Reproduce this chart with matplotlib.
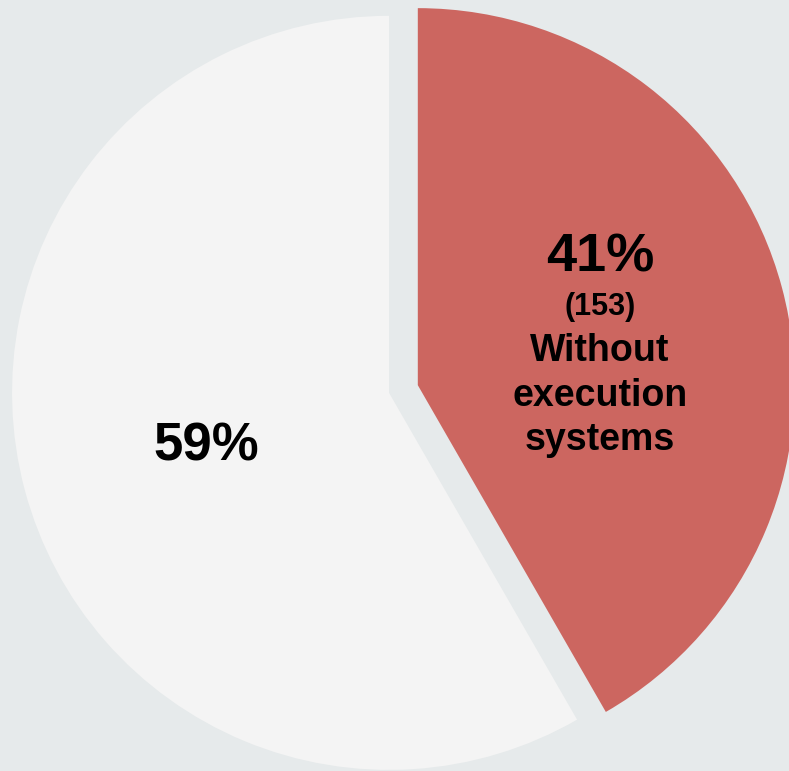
import matplotlib
matplotlib.use("Agg")
import matplotlib.pyplot as plt

# data
labels = ["Without execution systems", "Other"]
counts = [153, 214]
pcts = ["41%", "59%"]
colors = ["#cc6660", "#f4f4f4"]
explode = [0.079, 0]

bg = "#e6eaeb"

fig = plt.figure(figsize=(7.89, 7.71), dpi=100, facecolor=bg)
ax = fig.add_axes([0, 0, 1, 1])
ax.set_facecolor(bg)

ax.pie(counts, colors=colors, explode=explode, startangle=90,
       counterclock=False, radius=1.0,
       wedgeprops=dict(linewidth=0))

# pie runs off the edges of the picture, as in the original
ax.set_xlim(-1.032, 1.061)
ax.set_ylim(-1.003, 1.042)
ax.set_aspect("auto")
ax.axis("off")

font = dict(family=["Liberation Sans", "DejaVu Sans"], weight="bold",
            color="black", ha="center", va="center")

# red slice text
ax.text(0.560, 0.358, pcts[0], fontsize=39, **font)
ax.text(0.560, 0.228, "(%d)" % counts[0], fontsize=22, **font)
ax.text(0.560, -0.008, "Without\nexecution\nsystems", fontsize=27,
        linespacing=1.3, **font)

# gray slice text
ax.text(-0.485, -0.143, pcts[1], fontsize=38, **font)

fig.savefig("out.png", dpi=100, facecolor=bg)
